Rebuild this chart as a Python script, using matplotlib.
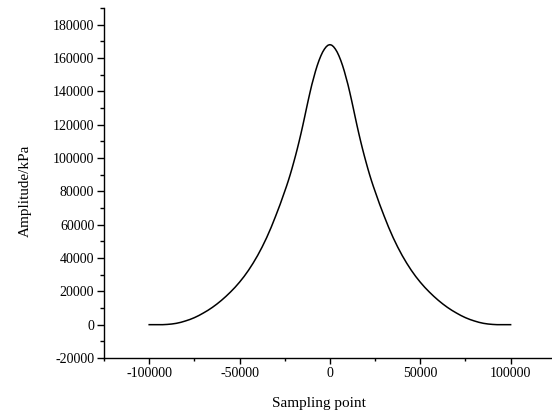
import matplotlib
matplotlib.use('Agg')
import matplotlib.pyplot as plt
from matplotlib.ticker import MultipleLocator

# Amplitude for the right half (x >= 0);
# the curve is symmetric, so the left half mirrors these readings.
HALF_POINTS = [0, 1000, 2000, 3000, 4000, 5000, 6000, 7000, 8000, 9000,
               10000, 11000, 12000, 13000, 14000, 15000, 16000, 17000, 18000, 19000,
               20000, 21000, 22000, 23000, 24000, 25000, 27500, 30000, 32500, 35000,
               37500, 40000, 42500, 45000, 47500, 50000, 52500, 55000, 57500, 60000,
               62500, 65000, 67500, 70000, 72500, 75000, 77500, 80000, 82500, 85000,
               87500, 90000, 92500, 95000, 97500, 100000]
HALF_AMPLITUDE = [168000, 167700, 166800, 165400, 163600, 161300, 158600, 155500, 152000, 148000,
                  144000, 139400, 134600, 129600, 124500, 119500, 114700, 110100, 105700, 101500,
                  97500, 93600, 89900, 86400, 83100, 80000, 72300, 65200, 58400, 52200,
                  46600, 41500, 36900, 32700, 28900, 25500, 22400, 19600, 17000, 14600,
                  12400, 10400, 8600, 7000, 5500, 4200, 3100, 2200, 1400, 800,
                  400, 150, 0, 0, 0, 0]

SAMPLING_POINTS = [-x for x in HALF_POINTS[:0:-1]] + HALF_POINTS
AMPLITUDE = HALF_AMPLITUDE[:0:-1] + HALF_AMPLITUDE

X_LABEL = 'Sampling point'
Y_LABEL = 'Amplitude/kPa'

W, H = 552, 417


def plot_amplitude(out_file='out.png', dpi=100):
    plt.rcParams['font.family'] = ['Liberation Serif', 'DejaVu Serif']
    plt.rcParams['axes.unicode_minus'] = False
    fig = plt.figure(figsize=(W / dpi, H / dpi), dpi=dpi)

    # axes box placed to match the reference (right end runs off the canvas)
    left, bottom, top = 104, 358, 8
    width_px = 451.8
    ax = fig.add_axes([left / W, 1 - bottom / H, width_px / W, (bottom - top) / H])

    ax.plot(SAMPLING_POINTS, AMPLITUDE, color='black', linewidth=1.1)

    ax.set_xlim(-125000, 125000)
    ax.set_ylim(-20000, 190000)
    ax.xaxis.set_major_locator(MultipleLocator(50000))
    ax.xaxis.set_minor_locator(MultipleLocator(25000))
    ax.yaxis.set_minor_locator(MultipleLocator(10000))
    ax.set_yticks(range(-20000, 180001, 20000))

    for side in ('top', 'right'):
        ax.spines[side].set_visible(False)
    for side in ('left', 'bottom'):
        ax.spines[side].set_linewidth(1.0)

    ax.tick_params(axis='y', which='major', length=5, width=1.0, pad=2, labelsize=10)
    ax.tick_params(axis='y', which='minor', length=3, width=1.0)
    ax.tick_params(axis='x', which='major', length=4.3, width=1.0, pad=2, labelsize=10)
    ax.tick_params(axis='x', which='minor', length=2.3, width=1.0)

    fig.text(319 / W, 1 - 404 / H, X_LABEL, ha='center', va='center', fontsize=11)
    fig.text(25 / W, 1 - 191 / H, Y_LABEL, ha='center', va='center',
             rotation=90, fontsize=11)

    fig.savefig(out_file, dpi=dpi)


def main():
    plot_amplitude()


if __name__ == "__main__":
    main()
